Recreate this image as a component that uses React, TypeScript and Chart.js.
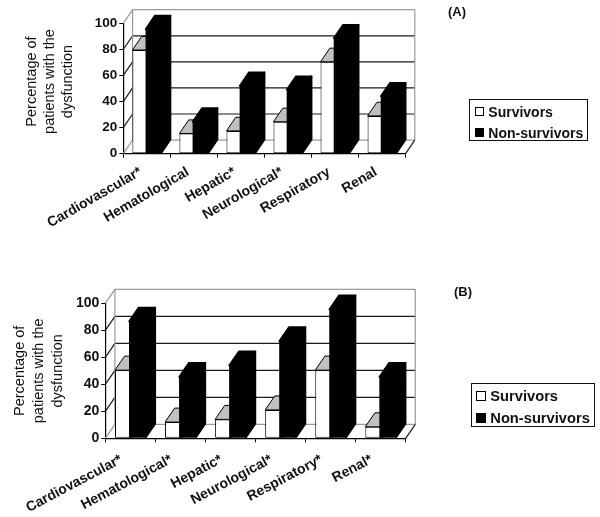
import React, { useEffect, useRef } from "react";
import { Chart, registerables } from "chart.js";

Chart.register(...registerables);

const categoriesA = ["Cardiovascular*", "Hematological", "Hepatic*", "Neurological*", "Respiratory", "Renal"];
const survivorsA = [79.5, 15.5, 17.5, 24.5, 70.5, 29];
const nonSurvivorsA = [95.5, 24.5, 52, 49, 88.5, 44];

const categoriesB = ["Cardiovascular*", "Hematological*", "Hepatic*", "Neurological*", "Respiratory*", "Renal*"];
const survivorsB = [50.5, 12, 14, 21, 50.5, 8.5];
const nonSurvivorsB = [86.5, 45.5, 54, 72, 95.5, 45.5];

const seriesNames = ["Survivors", "Non-survivors"];
const yAxisTitle = ["Percentage of", "patients with the", "dysfunction"];
const FONT = "'Liberation Sans', Arial, sans-serif";

const depthPlugin = {
  id: "depth3d",
  beforeDraw(chart: any, _a: any, o: any) {
    const y = chart.scales.y;
    if (!y.__shifted) {
      y.__shifted = true;
      const orig = y.drawTitle.bind(y);
      y.drawTitle = () => {
        chart.ctx.save();
        chart.ctx.translate(0, o.titleShift);
        orig();
        chart.ctx.restore();
      };
    }
  },
  beforeDatasetsDraw(chart: any, _a: any, o: any) {
    const { ctx, scales: { x, y } } = chart;
    const { dx, dy } = o;
    const l = x.left, r = x.right;
    const line = (x1: number, y1: number, x2: number, y2: number, c: string, w = 1.2) => {
      ctx.strokeStyle = c; ctx.lineWidth = w;
      ctx.beginPath(); ctx.moveTo(x1, y1); ctx.lineTo(x2, y2); ctx.stroke();
    };
    ctx.save();
    const gray = "#9a9a9a";
    y.ticks.forEach((t: any) => {
      const p = y.getPixelForValue(t.value);
      const edge = t.value === 0 || t.value === y.max;
      const c = edge ? gray : "#1a1a1a";
      line(l, p, l + dx, p - dy, c);
      line(l + dx, p - dy, r + dx, p - dy, c);
    });
    const top = y.getPixelForValue(y.max), bot = y.getPixelForValue(0);
    line(l + dx, top - dy, l + dx, bot - dy, gray);
    line(r + dx, top - dy, r + dx, bot - dy, gray);
    line(r, bot, r + dx, bot - dy, "#1a1a1a");
    ctx.restore();
  },
  // Chart.js paints the first dataset last; the survivors must lie behind, so paint in dataset order here.
  beforeDatasetDraw() {
    return false;
  },
  afterDatasetsDraw(chart: any, _a: any, o: any) {
    const { ctx } = chart;
    const { dx, dy } = o;
    [0, 1].forEach((index) => {
      const meta = chart.getDatasetMeta(index);
      meta.controller.draw();
      const isWhite = index === 0;
      ctx.save();
      ctx.lineWidth = isWhite ? 1 : 1.6;
      ctx.lineJoin = "round";
      ctx.strokeStyle = "#000";
      meta.data.forEach((b: any) => {
        const x0 = b.x - b.width / 2, x1 = b.x + b.width / 2;
        ctx.fillStyle = isWhite ? "#c0c0c0" : "#000";
        ctx.beginPath();
        ctx.moveTo(x0, b.y); ctx.lineTo(x0 + dx, b.y - dy); ctx.lineTo(x1 + dx, b.y - dy); ctx.lineTo(x1, b.y);
        ctx.closePath(); ctx.fill(); ctx.stroke();
        ctx.fillStyle = isWhite ? "#fff" : "#000";
        ctx.beginPath();
        ctx.moveTo(x1, b.y); ctx.lineTo(x1 + dx, b.y - dy); ctx.lineTo(x1 + dx, b.base - dy); ctx.lineTo(x1, b.base);
        ctx.closePath(); ctx.fill(); ctx.stroke();
      });
      ctx.restore();
    });
  },
};

type PanelProps = {
  top: number; height: number; categories: string[]; survivors: number[]; nonSurvivors: number[];
  left: number; right: number; areaTop: number; areaBottom: number; dx: number; dy: number;
  tickFont: number; catFont: number; titleFont: number; titleLine: number; titlePad: number; titleShift: number;
  labelOffset: number; rotation: number; labelPad: number;
};

function Panel(p: PanelProps) {
  const ref = useRef<HTMLCanvasElement>(null);
  useEffect(() => {
    const chart = new Chart(ref.current as HTMLCanvasElement, {
      type: "bar",
      data: {
        labels: p.categories,
        datasets: [
          { label: seriesNames[0], data: p.survivors, backgroundColor: "#fff", borderColor: "#000", borderWidth: 1 },
          { label: seriesNames[1], data: p.nonSurvivors, backgroundColor: "#000", borderColor: "#000", borderWidth: 0 },
        ],
      },
      options: {
        responsive: false,
        animation: false,
        layout: { padding: { top: p.areaTop, right: 600 - p.right, bottom: 0, left: 0 } },
        datasets: { bar: { categoryPercentage: 0.56, barPercentage: 1.19, borderSkipped: false } },
        plugins: {
          legend: { display: false },
          tooltip: { enabled: false },
          depth3d: { dx: p.dx, dy: p.dy, titleShift: p.titleShift },
        },
        scales: {
          x: {
            afterFit: (s: any) => { s.height = p.height - p.areaBottom; },
            grid: { drawOnChartArea: false, tickLength: 4, color: "#000" },
            border: { color: "#000", width: 1.2 },
            ticks: {
              autoSkip: false, minRotation: p.rotation, maxRotation: p.rotation, labelOffset: p.labelOffset, padding: p.labelPad,
              color: "#111", font: { family: FONT, size: p.catFont, weight: "bold" },
            },
          },
          y: {
            min: 0, max: 100,
            afterFit: (s: any) => { s.width = p.left; },
            grid: { drawOnChartArea: false, tickLength: 4, color: "#000" },
            border: { color: "#000", width: 1.2 },
            ticks: { stepSize: 20, padding: 2, color: "#111", font: { family: FONT, size: p.tickFont, weight: "bold" } },
            title: {
              display: true, text: yAxisTitle, color: "#111",
              padding: { top: p.titlePad, bottom: 0 },
              font: { family: FONT, size: p.titleFont, lineHeight: p.titleLine / p.titleFont },
            },
          },
        },
      },
      plugins: [depthPlugin],
    } as any);
    return () => chart.destroy();
  }, []);
  return (
    <canvas ref={ref} width={600} height={p.height}
      style={{ position: "absolute", left: 0, top: p.top, width: 600, height: p.height, display: "block" }} />
  );
}

function Legend(p: { x: number; y: number; w: number; h: number; fs: number; sw: number; tx: number; y1: number; y2: number; sx: number }) {
  const row = (name: string, cy: number, fill: string) => (
    <React.Fragment key={name}>
      <div style={{ position: "absolute", left: p.sx - p.x, top: cy - p.y - p.sw / 2, width: p.sw, height: p.sw, boxSizing: "border-box", background: fill, border: "1px solid #000" }} />
      <div style={{ position: "absolute", left: p.tx - p.x, top: cy - p.y - 10, height: 20, lineHeight: "20px", whiteSpace: "nowrap", fontFamily: FONT, fontWeight: "bold", fontSize: p.fs, color: "#111" }}>{name}</div>
    </React.Fragment>
  );
  return (
    <div style={{ position: "absolute", left: p.x, top: p.y, width: p.w, height: p.h, boxSizing: "border-box", border: "1.5px solid #111", background: "#fff" }}>
      {row(seriesNames[0], p.y1, "#fff")}
      {row(seriesNames[1], p.y2, "#000")}
    </div>
  );
}

function PanelLabel({ x, y, text }: { x: number; y: number; text: string }) {
  return <div style={{ position: "absolute", left: x, top: y - 10, height: 20, lineHeight: "20px", fontFamily: FONT, fontWeight: "bold", fontSize: 13, color: "#111" }}>{text}</div>;
}

export default function App() {
  return (
    <div style={{ position: "absolute", left: 0, top: 0, width: 600, height: 517, overflow: "hidden", background: "#fff" }}>
      <Panel top={0} height={270} categories={categoriesA} survivors={survivorsA} nonSurvivors={nonSurvivorsA}
        left={123.3} right={405.5} areaTop={23.3} areaBottom={153.7} dx={9.3} dy={13.6}
        tickFont={13.5} catFont={14} titleFont={14.5} titleLine={18} titlePad={23} titleShift={-7} labelOffset={-6} rotation={30} labelPad={6} />
      <Panel top={270} height={247} categories={categoriesB} survivors={survivorsB} nonSurvivors={nonSurvivorsB}
        left={105.3} right={405.7} areaTop={33.3} areaBottom={168.3} dx={9.6} dy={14}
        tickFont={14} catFont={14} titleFont={14.5} titleLine={19} titlePad={10} titleShift={0} labelOffset={-9} rotation={28} labelPad={9} />
      <PanelLabel x={448} y={11.7} text="(A)" />
      <PanelLabel x={454} y={292} text="(B)" />
      <Legend x={469.3} y={99} w={119} h={42.3} fs={14} sw={9} sx={474.5} tx={487.3} y1={110.7} y2={131.7} />
      <Legend x={470.7} y={382.7} w={124.3} h={44.6} fs={14.7} sw={10} sx={475.3} tx={489.3} y1={395} y2={417} />
    </div>
  );
}
